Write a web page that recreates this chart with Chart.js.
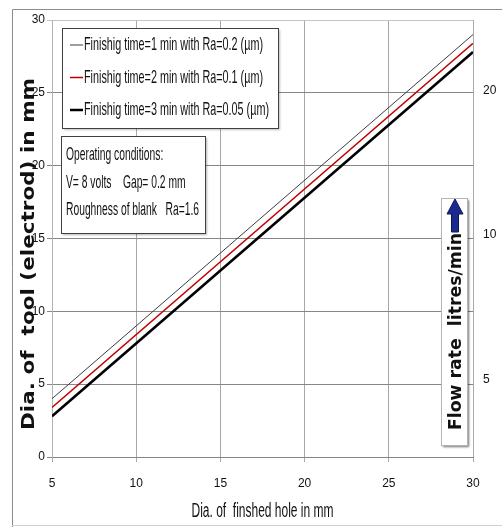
<!DOCTYPE html>
<html>
<head>
<meta charset="utf-8">
<script src="https://cdn.jsdelivr.net/npm/chart.js@4.4.1/dist/chart.umd.min.js"></script>
<style>
    html, body { margin: 0; padding: 0; background: #fff; }
    #wrap { width: 502px; height: 527px; }
</style>
</head>
<body>
<div id="wrap"><canvas id="chart" width="502" height="527"></canvas></div>
<script>
    // Chart data
    const holeDia = [5, 30];
    const toolDia1min = [4.0, 29.0];
    const toolDia2min = [3.4, 28.4];
    const toolDia3min = [2.8, 27.8];
    const seriesLabels = [
        'Finishig time=1 min with Ra=0.2 (µm)',
        'Finishig time=2 min with Ra=0.1 (µm)',
        'Finishig time=3 min with Ra=0.05 (µm)'
    ];
    const xTicks = [5, 10, 15, 20, 25, 30];
    const yTicks = [0, 5, 10, 15, 20, 25, 30];
    const flowTicks = [5, 10, 20];
    const conditionLines = [
        'Operating conditions:',
        'V= 8 volts    Gap= 0.2 mm',
        'Roughness of blank   Ra=1.6'
    ];
    const xTitle = 'Dia. of  finshed hole in mm';
    const yTitle = 'Dia. of  tool (electrod) in mm';
    const flowTitle = 'Flow rate  litres/min';

    const NARROW = '"Liberation Sans Narrow", "Liberation Sans", Arial, sans-serif';
    const WIDE = '"DejaVu Sans", Verdana, sans-serif';
    const TEXT = '#111';

    // Helper: scale factor that makes text fit a width
    function scaleFor(ctx, text, font, width) {
        ctx.save();
        ctx.font = font;
        const w = ctx.measureText(text).width;
        ctx.restore();
        return width / w;
    }

    // Helper: draw text squeezed along its own direction
    function drawText(ctx, text, x, y, font, scale, align, rotation, baseline) {
        ctx.save();
        ctx.font = font;
        ctx.fillStyle = TEXT;
        ctx.textBaseline = baseline || 'middle';
        ctx.textAlign = align || 'left';
        ctx.translate(x, y);
        if (rotation) ctx.rotate(rotation);
        ctx.scale(scale, 1);
        ctx.fillText(text, 0, 0);
        ctx.restore();
    }

    function whiteBox(ctx, x, y, w, h, stroke, shadow) {
        ctx.save();
        ctx.shadowColor = shadow;
        ctx.shadowOffsetX = 2;
        ctx.shadowOffsetY = 2;
        ctx.shadowBlur = 2;
        ctx.fillStyle = '#fff';
        ctx.fillRect(x, y, w, h);
        ctx.restore();
        ctx.save();
        ctx.strokeStyle = stroke;
        ctx.lineWidth = 1;
        ctx.strokeRect(x + 0.5, y + 0.5, w, h);
        ctx.restore();
    }

    const framePlugin = {
        id: 'frame',
        beforeDraw(chart) {
            const ctx = chart.ctx;
            const a = chart.chartArea;
            ctx.save();
            ctx.fillStyle = '#fff';
            ctx.fillRect(0, 0, chart.width, chart.height);
            ctx.strokeStyle = '#8c8c8c';
            ctx.lineWidth = 1;
            ctx.beginPath();
            ctx.moveTo(12.5, chart.height);
            ctx.lineTo(12.5, 9.5);
            ctx.lineTo(chart.width, 9.5);
            ctx.stroke();
            ctx.strokeStyle = '#d0d0d0';
            ctx.beginPath();
            ctx.moveTo(12, chart.height - 1.5);
            ctx.lineTo(chart.width, chart.height - 1.5);
            ctx.stroke();
            ctx.strokeStyle = '#c4c4c4';
            ctx.strokeRect(a.left + 0.5, a.top + 0.5, a.right - a.left, a.bottom - a.top);
            ctx.restore();
        },
        afterDraw(chart) {
            const ctx = chart.ctx;
            const a = chart.chartArea;

            // axis titles
            const yf = 'bold 18px ' + WIDE;
            const ys = scaleFor(ctx, yTitle, yf, 352);
            drawText(ctx, yTitle, 34, 254, yf, ys, 'center', -Math.PI / 2, 'alphabetic');
            const xf = '20px ' + NARROW;
            const xs = scaleFor(ctx, xTitle, xf, 142);
            drawText(ctx, xTitle, (a.left + a.right) / 2, 511, xf, xs, 'center');

            // series legend
            whiteBox(ctx, 62, 28, 216, 100, '#404040', 'rgba(0,0,0,0.25)');
            const lf = '19px ' + NARROW;
            const ls = scaleFor(ctx, seriesLabels[2], lf, 185);
            chart.data.datasets.forEach((ds, i) => {
                const y = 45 + i * 32.5;
                ctx.save();
                ctx.strokeStyle = ds.borderColor;
                ctx.lineWidth = ds.borderWidth;
                ctx.beginPath();
                ctx.moveTo(70, y);
                ctx.lineTo(83, y);
                ctx.stroke();
                ctx.restore();
                drawText(ctx, ds.label, 84, y, lf, ls, 'left');
            });

            // operating conditions
            whiteBox(ctx, 61, 136, 144, 97, '#404040', 'rgba(0,0,0,0.3)');
            const cs = scaleFor(ctx, conditionLines[2], lf, 133);
            conditionLines.forEach((t, i) => {
                drawText(ctx, t, 66, 155 + i * 27.5, lf, cs, 'left');
            });

            // flow rate label with arrow
            whiteBox(ctx, 441, 198, 26, 247, '#b4b4b4', 'rgba(0,0,0,0.55)');
            ctx.save();
            ctx.fillStyle = '#1c2a8f';
            ctx.strokeStyle = '#0e165a';
            ctx.lineWidth = 1;
            ctx.beginPath();
            ctx.moveTo(455, 199);
            ctx.lineTo(463, 214);
            ctx.lineTo(458.5, 214);
            ctx.lineTo(458.5, 232);
            ctx.lineTo(451.5, 232);
            ctx.lineTo(451.5, 214);
            ctx.lineTo(447, 214);
            ctx.closePath();
            ctx.fill();
            ctx.stroke();
            ctx.restore();
            const ff = 'bold 17px ' + WIDE;
            const fs = scaleFor(ctx, flowTitle, ff, 197);
            drawText(ctx, flowTitle, 461, 331.5, ff, fs, 'center', -Math.PI / 2, 'alphabetic');
        }
    };

    function series(ys) {
        return holeDia.map((x, i) => ({ x, y: ys[i] }));
    }

    const tickFont = { family: NARROW, size: 12 };

    new Chart(document.getElementById('chart'), {
        type: 'line',
        data: {
            datasets: [{
                label: seriesLabels[0],
                data: series(toolDia1min),
                borderColor: '#3c3c3c',
                borderWidth: 1,
                pointRadius: 0
            }, {
                label: seriesLabels[1],
                data: series(toolDia2min),
                borderColor: '#c00000',
                borderWidth: 1.5,
                pointRadius: 0
            }, {
                label: seriesLabels[2],
                data: series(toolDia3min),
                borderColor: '#000000',
                borderWidth: 2.5,
                pointRadius: 0
            }]
        },
        options: {
            responsive: false,
            animation: false,
            layout: { padding: { top: 20 } },
            plugins: {
                legend: { display: false },
                tooltip: { enabled: false }
            },
            scales: {
                x: {
                    type: 'linear',
                    min: xTicks[0],
                    max: xTicks[xTicks.length - 1],
                    afterBuildTicks: s => { s.ticks = xTicks.map(v => ({ value: v })); },
                    afterFit: s => { s.height = 70; },
                    grid: { color: '#a8a8a8', tickLength: 5 },
                    border: { color: '#868686' },
                    ticks: { font: tickFont, color: TEXT, padding: 14, maxRotation: 0 }
                },
                y: {
                    min: yTicks[0],
                    max: yTicks[yTicks.length - 1],
                    afterBuildTicks: s => { s.ticks = yTicks.map(v => ({ value: v })); },
                    afterFit: s => { s.width = 52; },
                    grid: {
                        color: c => c.tick && c.tick.value === 30 ? '#c4c4c4' : '#868686',
                        tickLength: 5
                    },
                    border: { color: '#b4b4b4' },
                    ticks: { font: tickFont, color: TEXT, padding: 2 }
                },
                flow: {
                    type: 'logarithmic',
                    position: 'right',
                    min: 3.45,
                    max: 28,
                    afterBuildTicks: s => { s.ticks = flowTicks.map(v => ({ value: v })); },
                    afterFit: s => { s.width = 29; },
                    grid: { display: false, drawTicks: false },
                    border: { display: false },
                    ticks: {
                        font: tickFont,
                        color: TEXT,
                        padding: 10,
                        autoSkip: false,
                        callback: v => String(v)
                    }
                }
            }
        },
        plugins: [framePlugin]
    });
</script>
</body>
</html>
